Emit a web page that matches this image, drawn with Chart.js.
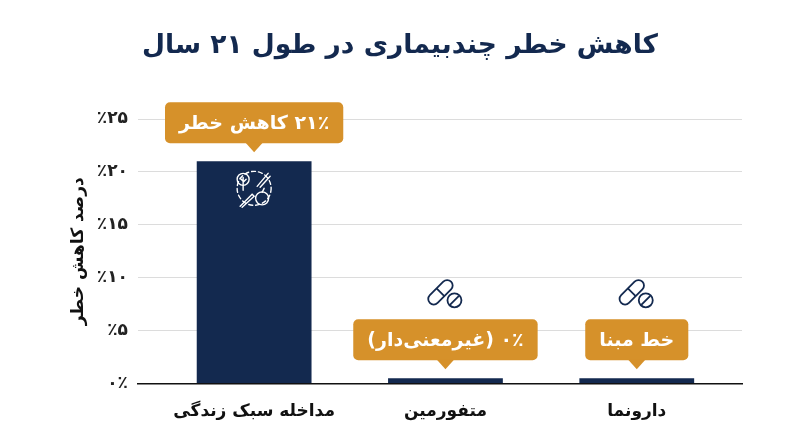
<!DOCTYPE html>
<html>
<head>
<meta charset="utf-8">
<script src="https://cdn.jsdelivr.net/npm/chart.js@4.4.1/dist/chart.umd.min.js"></script>
<style>
  html, body { margin: 0; padding: 0; background: #fff; }
  #wrap { width: 800px; height: 447px; }
</style>
</head>
<body>
<div id="wrap"><canvas id="chart"></canvas></div>
<script>
// data
const categories = ['مداخله سبک زندگی', 'متفورمین', 'دارونما']
const riskReduction = [21, 0.5, 0.5]
const calloutLabels = ['۲۱٪ کاهش خطر', '۰٪ (غیرمعنی\u200cدار)', 'خط مبنا']
const barIcons = ['lifestyle', 'pill', 'pill']
const yTickValues = [0, 5, 10, 15, 20, 25]
const yTickLabels = ['۰٪', '٪۵', '٪۱۰', '٪۱۵', '٪۲۰', '٪۲۵']
const chartTitle = 'کاهش خطر چندبیماری در طول ۲۱ سال'

const NAVY = '#13294f'
const ORANGE = '#d6912a'
const FONT = '"DejaVu Sans", sans-serif'

Chart.defaults.font.family = FONT

function drawPill(ctx, cx, cy) {
    ctx.save()
    ctx.strokeStyle = NAVY
    ctx.lineWidth = 1.8
    // capsule
    ctx.save()
    ctx.translate(cx - 5, cy - 2)
    ctx.rotate(-Math.PI / 4)
    ctx.beginPath()
    ctx.roundRect(-15, -5.5, 30, 11, 5.5)
    ctx.stroke()
    ctx.beginPath()
    ctx.moveTo(0, -5.5)
    ctx.lineTo(0, 5.5)
    ctx.stroke()
    ctx.restore()
    // tablet
    const tx = cx + 9, ty = cy + 6
    ctx.beginPath()
    ctx.arc(tx, ty, 7, 0, Math.PI * 2)
    ctx.stroke()
    ctx.beginPath()
    ctx.moveTo(tx + 4.5, ty - 4.5)
    ctx.lineTo(tx - 4.5, ty + 4.5)
    ctx.stroke()
    ctx.restore()
}

function drawLifestyle(ctx, cx, cy) {
    ctx.save()
    ctx.strokeStyle = '#ffffff'
    ctx.lineWidth = 1.4
    ctx.lineCap = 'round'
    // dashed ring
    ctx.setLineDash([4, 3])
    ctx.beginPath()
    ctx.arc(cx, cy, 17, 0, Math.PI * 2)
    ctx.stroke()
    ctx.setLineDash([])
    // tree
    ctx.beginPath()
    ctx.arc(cx - 11, cy - 9, 6, 0, Math.PI * 2)
    ctx.stroke()
    ctx.beginPath()
    ctx.moveTo(cx - 11, cy - 11)
    ctx.lineTo(cx - 11, cy + 2)
    ctx.moveTo(cx - 11, cy - 7)
    ctx.lineTo(cx - 14, cy - 10)
    ctx.moveTo(cx - 11, cy - 6)
    ctx.lineTo(cx - 8, cy - 9)
    ctx.stroke()
    // carrot
    ctx.beginPath()
    ctx.moveTo(cx + 3, cy - 2)
    ctx.lineTo(cx + 14, cy - 15)
    ctx.moveTo(cx + 6, cy - 1)
    ctx.lineTo(cx + 16, cy - 12)
    ctx.stroke()
    // knife
    ctx.beginPath()
    ctx.moveTo(cx - 14, cy + 18)
    ctx.lineTo(cx - 2, cy + 6)
    ctx.lineTo(cx, cy + 8)
    ctx.lineTo(cx - 12, cy + 19)
    ctx.stroke()
    // apple
    ctx.beginPath()
    ctx.arc(cx + 8, cy + 10, 6.5, 0, Math.PI * 2)
    ctx.stroke()
    ctx.beginPath()
    ctx.moveTo(cx + 8, cy + 4)
    ctx.lineTo(cx + 10, cy)
    ctx.stroke()
    ctx.restore()
}

const callouts = {
    id: 'callouts',
    afterDatasetsDraw(chart) {
        const ctx = chart.ctx
        const meta = chart.getDatasetMeta(0)
        meta.data.forEach((bar, i) => {
            const tipY = bar.y - 9
            const h = 41
            const top = tipY - 9 - h
            ctx.save()
            ctx.font = 'bold 19px ' + FONT
            ctx.direction = 'rtl'
            const w = ctx.measureText(calloutLabels[i]).width + 28
            ctx.fillStyle = ORANGE
            ctx.beginPath()
            ctx.roundRect(bar.x - w / 2, top, w, h, 5)
            ctx.fill()
            ctx.beginPath()
            ctx.moveTo(bar.x - 9, top + h - 1)
            ctx.lineTo(bar.x + 9, top + h - 1)
            ctx.lineTo(bar.x, tipY)
            ctx.closePath()
            ctx.fill()
            ctx.fillStyle = '#ffffff'
            ctx.textAlign = 'center'
            ctx.textBaseline = 'middle'
            ctx.fillText(calloutLabels[i], bar.x, top + h / 2 + 1)
            ctx.restore()

            if (barIcons[i] === 'lifestyle') {
                drawLifestyle(ctx, bar.x, bar.y + 27)
            } else {
                drawPill(ctx, bar.x, bar.y - 84)
            }
        })
    }
}

// title centred on the whole canvas, not on the padded box
const titlePlugin = {
    id: 'centerTitle',
    afterDraw(chart) {
        const ctx = chart.ctx
        ctx.save()
        ctx.font = 'bold 26.5px ' + FONT
        ctx.fillStyle = NAVY
        ctx.textAlign = 'center'
        ctx.textBaseline = 'middle'
        ctx.direction = 'rtl'
        ctx.fillText(chartTitle, chart.width / 2, 46)
        ctx.restore()
    }
}

const config = {
    type: 'bar',
    data: {
        datasets: [
            {
                data: riskReduction.map((v, i) => ({ x: i, y: v })),
                backgroundColor: NAVY,
                barPercentage: 0.6,
                categoryPercentage: 1,
            },
        ],
    },
    options: {
        responsive: true,
        maintainAspectRatio: false,
        animation: false,
        layout: {
            padding: { left: 0, right: 58, top: 119, bottom: 15 },
        },
        scales: {
            x: {
                type: 'linear',
                offset: false,
                min: -0.607,
                max: 2.55,
                afterBuildTicks: (scale) => {
                    scale.ticks = categories.map((_, i) => ({ value: i }))
                },
                ticks: {
                    callback: (v) => categories[v],
                    font: { size: 17, weight: 'bold' },
                    color: '#111111',
                    padding: 10,
                    autoSkip: false,
                    maxRotation: 0,
                },
                grid: { display: false },
                border: { display: true, color: '#111111', width: 1.5 },
            },
            y: {
                min: 0,
                max: 25,
                afterBuildTicks: (scale) => {
                    scale.ticks = yTickValues.map(v => ({ value: v }))
                },
                afterFit: (scale) => {
                    scale.width = 138
                },
                ticks: {
                    callback: (v, i) => yTickLabels[i],
                    font: { size: 17, weight: 'bold' },
                    color: '#222222',
                    padding: 10,
                },
                grid: {
                    color: (c) => c.tick && c.tick.value === 0 ? 'rgba(0,0,0,0)' : '#dcdcdc',
                    drawTicks: false,
                },
                border: { display: false },
                title: {
                    display: true,
                    text: 'درصد کاهش خطر',
                    font: { size: 17, weight: 'bold' },
                    color: '#111111',
                    padding: { top: 68 },
                },
            },
        },
        plugins: {
            legend: { display: false },
            tooltip: { enabled: false },
        },
    },
    plugins: [callouts, titlePlugin],
}

new Chart(document.getElementById('chart'), config)
</script>
</body>
</html>
